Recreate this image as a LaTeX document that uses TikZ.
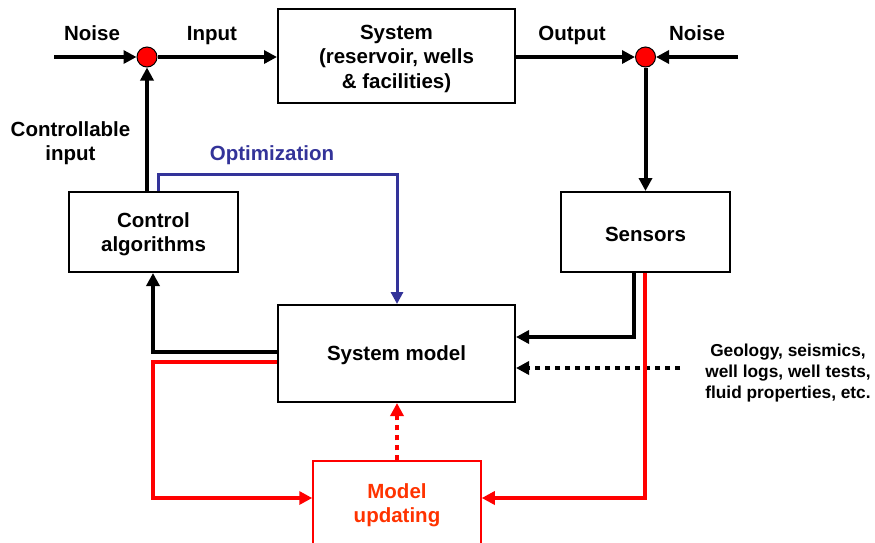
\documentclass[tikz,border=0pt]{standalone}
\usepackage{fontspec}
\setmainfont{Liberation Sans}
\usetikzlibrary{arrows.meta}
\definecolor{optblue}{RGB}{51,51,153}
\definecolor{updred}{RGB}{255,51,0}
\tikzset{
  box/.style={draw=black, line width=2pt, fill=white, inner sep=0pt},
  lbl/.style={align=center, inner sep=0pt, font=\fontsize{20.5}{24.5}\selectfont\bfseries},
  small/.style={align=center, inner sep=0pt, font=\fontsize{17.3}{21}\selectfont\bfseries},
  sumpt/.style={circle, draw=black, line width=1pt, fill=red, minimum size=20pt, inner sep=0pt},
  arr/.style={line width=4pt, -{Triangle[length=13pt,width=13pt]}},
}
\begin{document}
\begin{tikzpicture}[x=1pt,y=-1pt]
\useasboundingbox (0,0) rectangle (875,542);
% boxes
\node[box, minimum width=237pt, minimum height=94pt] (sys) at (396.5,56) {};
\node[box, minimum width=169pt, minimum height=80pt] (ctrl) at (153.5,232) {};
\node[box, minimum width=169pt, minimum height=80pt] (sens) at (645.5,232) {};
\node[box, minimum width=237pt, minimum height=97pt] (model) at (396.5,353.5) {};
\node[box, draw=red, line width=1.5pt, minimum width=168pt, minimum height=84pt] (upd) at (397,503) {};
% box texts
\node[lbl] (tsys) at (396.5,58.5) {System\\(reservoir, wells\\\& facilities)};
\node[lbl] (tctrl2) at (153.5,234) {Control\\algorithms};
\node[lbl] (tsens) at (645.5,234) {Sensors};
\node[lbl] (tmodel) at (396.5,355.5) {System model};
\node[lbl, text=updred] (tupd) at (397,505) {Model\\updating};
% summing points
\node[sumpt] (s1) at (147,57) {};
\node[sumpt] (s2) at (645.5,57) {};
% labels
\node[lbl, anchor=base] (tnoise1) at (92,40) {Noise};
\node[lbl, anchor=base] (tinput) at (212,40) {Input};
\node[lbl, anchor=base] (toutput) at (572,40) {Output};
\node[lbl, anchor=base] (tnoise2) at (697,40) {Noise};
\node[lbl] (tctrl) at (70.5,143) {Controllable\\input};
\node[lbl, text=optblue, anchor=base] (topt) at (272,160) {Optimization};
\node[small] (tgeo) at (788,373) {Geology, seismics,\\well logs, well tests,\\fluid properties, etc.};
% free ends and bend points
\coordinate (n1) at (54,57);
\coordinate (n2) at (738,57);
\coordinate (ob1) at (158,174);
\coordinate (ob2) at (397,174);
\coordinate (cb) at (153,352);
\coordinate (rb1) at (153,362);
\coordinate (rb2) at (153,498);
\coordinate (sb1) at (634,337);
\coordinate (sb2) at (645,498);
\coordinate (geo) at (680,368);
% top line
\draw[arr] (n1) -- (s1);
\draw[arr] (s1) -- (sys.west |- s1);
\draw[arr] (sys.east |- s2) -- (s2);
\draw[arr] (n2) -- (s2);
\draw[arr] (s2) -- (sens.north -| s2);
\draw[arr] (ctrl.north -| s1) -- (s1);
% optimization
\draw[line width=3pt, optblue, -{Triangle[length=12pt,width=12pt]}] (ctrl.north -| ob1) -- (ob1) -- (ob2) -- (model.north -| ob2);
% model to control
\draw[arr] (model.west |- cb) -- (cb) -- (ctrl.south -| cb);
% sensors to model
\draw[arr] (sens.south -| sb1) -- (sb1) -- (model.east |- sb1);
% geology dotted
\draw[line width=4pt, dash pattern=on 5pt off 5pt, -{Triangle[length=13pt,width=13pt]}] (geo) -- (model.east |- geo);
% red lines
\draw[line width=4pt, red, -{Triangle[length=13pt,width=13pt]}] (model.west |- rb1) -- (rb1) -- (rb2) -- (upd.west |- rb2);
\draw[line width=4pt, red, -{Triangle[length=13pt,width=13pt]}] (sens.south -| sb2) -- (sb2) -- (upd.east |- sb2);
\draw[line width=4pt, red, dash pattern=on 5pt off 5pt, -{Triangle[length=13pt,width=13pt]}] (upd.north) -- (model.south -| upd.north);
\end{tikzpicture}
\end{document}
